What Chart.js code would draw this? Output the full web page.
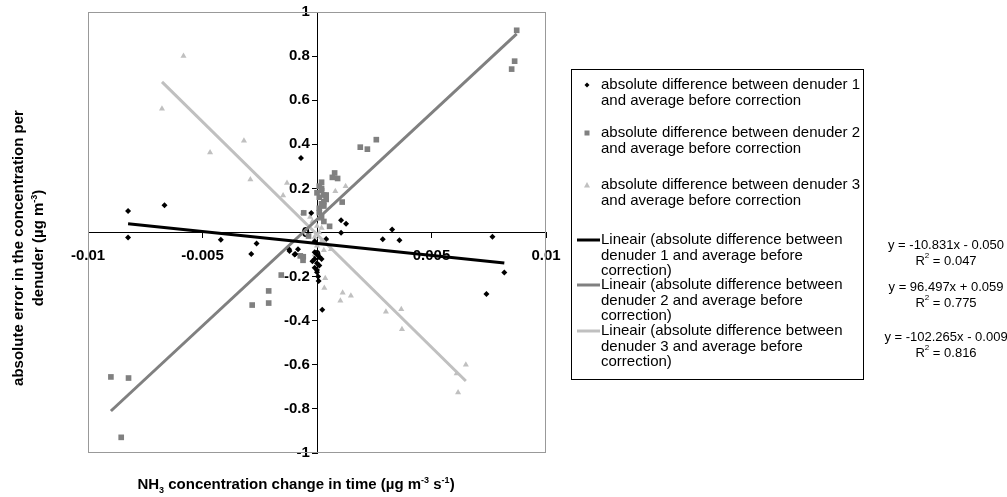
<!DOCTYPE html>
<html>
<head>
<meta charset="utf-8">
<script src="https://cdn.jsdelivr.net/npm/chart.js@4"></script>
<style>
  html, body { margin: 0; padding: 0; background: #fff; }
  #wrap { position: relative; width: 1007px; height: 497px; font-family: 'Liberation Sans', Arial, sans-serif; }
  #wrap canvas { position: absolute; left: 0; top: 0; }
  .title { position: absolute; font-weight: bold; font-size: 15px; white-space: nowrap; line-height: 1; color: #000; }
  .title sup, .title sub { font-size: 9px; line-height: 0; }
  .ytitle { transform: translate(-50%, -50%) rotate(-90deg); }
</style>
</head>
<body>
<div id="wrap">
  <canvas id="chart" width="1007" height="497"></canvas>
  <div class="title" style="left:296px; top:483px; transform: translate(-50%, -50%);">NH<sub>3</sub> concentration change in time (µg m<sup>-3</sup> s<sup>-1</sup>)</div>
  <div class="title ytitle" style="left:17px; top:248px;">absolute error in the concentration per</div>
  <div class="title ytitle" style="left:37px; top:248px;">denuder (µg m<sup>-3</sup>)</div>
</div>
<script>
// denuder 1 (black diamonds)
const d1X = [-0.00825, -0.00666, -0.00825, -0.0042, -0.0007, -0.00264, -0.00287, -0.00122, -0.00083, -0.00098,
             0.00007, 0.00105, 0.00287, 0.0036, 0.00766, 0.00818, 0.0074, 0.00023, 0.00105, 0.00127,
             0.00328, -0.00025, -0.0012, -0.00095, 0.0, -0.0001, 0.0, -0.0001, 0.0, 0.0001,
             -0.0002, 0.0001, 0.0, -0.0001, 0.0002, 0.00005, -0.0001, 0.0004];
const d1Y = [0.097, 0.124, -0.023, -0.033, 0.338, -0.05, -0.098, -0.076, -0.076, -0.1,
             -0.22, -0.001, -0.031, -0.035, -0.019, -0.181, -0.279, -0.35, 0.056, 0.04,
             0.014, 0.088, -0.084, -0.098, -0.1, -0.12, -0.14, -0.16, -0.18, -0.11,
             -0.13, -0.15, -0.17, -0.09, -0.12, -0.2, -0.04, -0.03];

// denuder 2 (grey squares)
const d2X = [0.00872, 0.00863, 0.0085, 0.00259, 0.00189, 0.0022, 0.00077, 0.00067, 0.0009, 0.0002,
             0.0011, 0.00055, 0.0001, 0.0002, 0.0003, 0.0001, 0.0004, 0.0002, 0.0003, 0.0001,
             0.0002, 0.0, 0.0004, 0.0003, 0.0001, 0.0002, 0.0003, -0.00058, -0.009, -0.00823,
             -0.00855, -0.00283, -0.00211, -0.00211, -0.00156, -0.00073, -0.00061, -0.00037, -0.0006];
const d2Y = [0.917, 0.777, 0.741, 0.421, 0.387, 0.378, 0.27, 0.25, 0.245, 0.228,
             0.138, 0.028, 0.21, 0.19, 0.17, 0.16, 0.15, 0.13, 0.12, 0.11,
             0.2, 0.18, 0.17, 0.14, 0.09, 0.07, 0.05, 0.089, -0.655, -0.66,
             -0.929, -0.329, -0.32, -0.265, -0.193, -0.106, -0.126, -0.016, -0.11];

// denuder 3 (light grey triangles)
const d3X = [-0.00583, -0.00677, -0.00467, -0.00319, -0.00291, -0.00148, -0.00131, -0.00061, 0.0065, 0.00616,
             0.0061, 0.00368, 0.00301, 0.00371, 0.00112, 0.00148, 0.00102, 0.00036, 0.00032, 0.00061,
             0.00125, 0.0008, -0.0002, 0.0, 0.0001, -0.0001, 0.0002, 0.0, 0.0001, -0.0003,
             0.0003, 0.0002, -0.0001, 0.0004];
const d3Y = [0.801, 0.561, 0.363, 0.416, 0.24, 0.168, 0.225, 0.089, -0.6, -0.726,
             -0.64, -0.348, -0.359, -0.439, -0.273, -0.287, -0.309, -0.207, -0.252, -0.076,
             0.21, 0.187, 0.05, 0.03, 0.0, -0.02, -0.04, -0.06, 0.06, 0.07,
             -0.08, 0.02, -0.1, -0.03];

// trendline coefficients as printed on the chart
const slopes = [-10.831, 96.497, -102.265];
const intercepts = [-0.050, 0.059, -0.009];
const rSquared = ['0.047', '0.775', '0.816'];

const xTicks = [-0.01, -0.005, 0, 0.005, 0.01];

const seriesLabels = [
  ['absolute difference between denuder 1', 'and average before correction'],
  ['absolute difference between denuder 2', 'and average before correction'],
  ['absolute difference between denuder 3', 'and average before correction'],
  ['Lineair (absolute difference between', 'denuder 1 and average before', 'correction)'],
  ['Lineair (absolute difference between', 'denuder 2 and average before', 'correction)'],
  ['Lineair (absolute difference between', 'denuder 3 and average before', 'correction)']
];

const colors = ['#000000', '#808080', '#c0c0c0'];
const FONT = "'Liberation Sans', Arial, sans-serif";

function pts(xs, ys) {
  return xs.map((x, i) => ({ x: x, y: ys[i] }));
}

function trend(xs, k) {
  const lo = Math.min(...xs), hi = Math.max(...xs);
  return [lo, hi].map(x => ({ x: x, y: slopes[k] * x + intercepts[k] }));
}

const plotFrame = {
  id: 'plotFrame',
  beforeDatasetsDraw(chart) {
    const a = chart.chartArea, ctx = chart.ctx;
    ctx.save();
    ctx.strokeStyle = '#999999';
    ctx.lineWidth = 1;
    ctx.strokeRect(a.left + 0.5, a.top + 0.5, a.right - a.left - 1, a.bottom - a.top - 1);
    ctx.restore();
  }
};

const sideLegend = {
  id: 'sideLegend',
  afterDraw(chart) {
    const ctx = chart.ctx;
    ctx.save();
    ctx.strokeStyle = '#000';
    ctx.lineWidth = 1;
    ctx.strokeRect(571.5, 69.5, 292, 310);

    ctx.font = '15px ' + FONT;
    ctx.fillStyle = '#000';
    ctx.textBaseline = 'middle';
    ctx.textAlign = 'left';
    const rowY = [85, 133, 185, 240, 285, 331];
    seriesLabels.forEach((lines, i) => {
      lines.forEach((t, j) => ctx.fillText(t, 601, rowY[i] + j * 15.5));
    });

    // point markers
    const mx = 587;
    ctx.fillStyle = colors[0];
    ctx.beginPath();
    ctx.moveTo(mx, rowY[0] - 2.5); ctx.lineTo(mx + 2.5, rowY[0]);
    ctx.lineTo(mx, rowY[0] + 2.5); ctx.lineTo(mx - 2.5, rowY[0]);
    ctx.fill();
    ctx.fillStyle = colors[1];
    ctx.fillRect(mx - 2.5, rowY[1] - 2.5, 5, 5);
    ctx.fillStyle = colors[2];
    ctx.beginPath();
    ctx.moveTo(mx, rowY[2] - 3); ctx.lineTo(mx + 3, rowY[2] + 2.5); ctx.lineTo(mx - 3, rowY[2] + 2.5);
    ctx.fill();

    // line markers
    ctx.lineWidth = 3;
    for (let k = 0; k < 3; k++) {
      ctx.strokeStyle = colors[k];
      ctx.beginPath();
      ctx.moveTo(577, rowY[3 + k]);
      ctx.lineTo(600, rowY[3 + k]);
      ctx.stroke();
    }

    // equations
    ctx.fillStyle = '#000';
    ctx.textAlign = 'center';
    const eqY = [245, 287, 337];
    for (let k = 0; k < 3; k++) {
      ctx.font = '13px ' + FONT;
      const s = slopes[k].toFixed(3);
      const b = intercepts[k];
      const eq = 'y = ' + s + 'x ' + (b < 0 ? '- ' : '+ ') + Math.abs(b).toFixed(3);
      ctx.fillText(eq, 946, eqY[k]);
      const r1 = 'R', r2 = ' = ' + rSquared[k];
      const w1 = ctx.measureText(r1).width, w2 = ctx.measureText(r2).width;
      ctx.font = '8px ' + FONT;
      const ws = ctx.measureText('2').width;
      const x0 = 946 - (w1 + ws + w2) / 2;
      const ry = eqY[k] + 16;
      ctx.textAlign = 'left';
      ctx.fillText('2', x0 + w1, ry - 5);
      ctx.font = '13px ' + FONT;
      ctx.fillText(r1, x0, ry);
      ctx.fillText(r2, x0 + w1 + ws, ry);
      ctx.textAlign = 'center';
    }
    ctx.restore();
  }
};

new Chart(document.getElementById('chart'), {
  type: 'scatter',
  data: {
    datasets: [
      { label: seriesLabels[0].join(' '), data: pts(d1X, d1Y), pointStyle: 'rectRot', pointRadius: 3,
        backgroundColor: colors[0], borderWidth: 0, order: 2 },
      { label: seriesLabels[1].join(' '), data: pts(d2X, d2Y), pointStyle: 'rect', pointRadius: 4,
        backgroundColor: colors[1], borderWidth: 0, order: 2 },
      { label: seriesLabels[2].join(' '), data: pts(d3X, d3Y), pointStyle: 'triangle', pointRadius: 3.5,
        backgroundColor: colors[2], borderWidth: 0, order: 2 },
      { label: seriesLabels[3].join(' '), data: trend(d1X, 0), showLine: true, pointRadius: 0,
        borderColor: colors[0], borderWidth: 3, order: 1 },
      { label: seriesLabels[4].join(' '), data: trend(d2X, 1), showLine: true, pointRadius: 0,
        borderColor: colors[1], borderWidth: 3, order: 1 },
      { label: seriesLabels[5].join(' '), data: trend(d3X, 2), showLine: true, pointRadius: 0,
        borderColor: colors[2], borderWidth: 3, order: 1 }
    ]
  },
  options: {
    responsive: false,
    animation: false,
    layout: { padding: { left: 88, top: 10, right: 461, bottom: 44 } },
    plugins: { legend: { display: false }, tooltip: { enabled: false } },
    scales: {
      x: {
        type: 'linear', min: -0.01, max: 0.01, position: { y: 0 },
        afterBuildTicks: axis => { axis.ticks = xTicks.map(v => ({ value: v })); },
        ticks: { color: '#000', font: { family: FONT, size: 15, weight: 'bold' }, padding: 9,
                 maxRotation: 0, autoSkip: false, callback: v => String(+v.toFixed(4)) },
        grid: { drawOnChartArea: false, drawTicks: true, tickLength: 5, color: '#000' },
        border: { color: '#000', width: 1 }
      },
      y: {
        type: 'linear', min: -1, max: 1, position: { x: 0 },
        ticks: { stepSize: 0.2, color: '#000', font: { family: FONT, size: 15, weight: 'bold' },
                 // centre-positioned axis puts labels on the line, so pad with trailing spaces
                 callback: v => String(+v.toFixed(2)) + ' \u2009' },
        grid: { drawOnChartArea: false, drawTicks: true, tickLength: 5, color: '#000' },
        border: { color: '#000', width: 1 }
      }
    }
  },
  plugins: [plotFrame, sideLegend]
});
</script>
</body>
</html>
